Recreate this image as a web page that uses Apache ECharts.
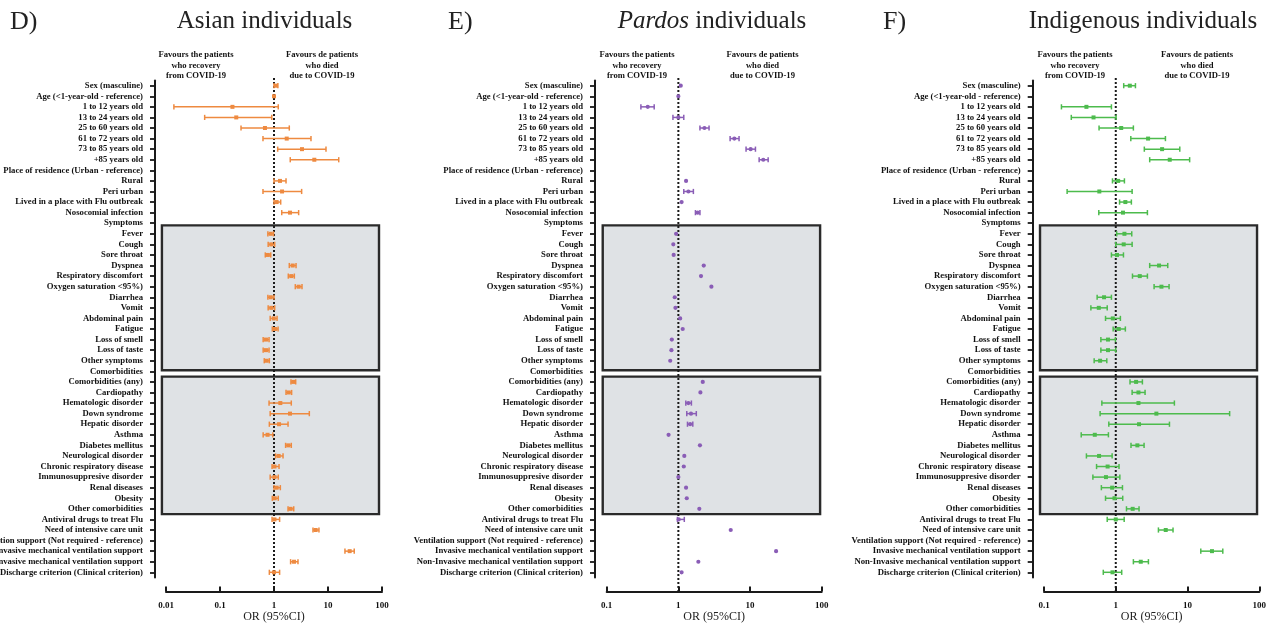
<!DOCTYPE html>
<html><head><meta charset="utf-8">
<script src="https://cdn.jsdelivr.net/npm/echarts@6/dist/echarts.min.js"></script>
<style>html,body{margin:0;padding:0;background:#fff}#c{width:1275px;height:625px}</style>
</head><body><div id="c"></div>
<script>
const FONT = "'Liberation Serif','Times New Roman',serif";

const rowLabels = [
 'Sex (masculine)','Age (<1-year-old - reference)','1 to 12 years old','13 to 24 years old','25 to 60 years old',
 '61 to 72 years old','73 to 85 years old','+85 years old','Place of residence (Urban - reference)','Rural',
 'Peri urban','Lived in a place with Flu outbreak','Nosocomial infection','Symptoms','Fever','Cough','Sore throat',
 'Dyspnea','Respiratory discomfort','Oxygen saturation <95%)','Diarrhea','Vomit','Abdominal pain','Fatigue',
 'Loss of smell','Loss of taste','Other symptoms','Comorbidities','Comorbidities (any)','Cardiopathy',
 'Hematologic disorder','Down syndrome','Hepatic disorder','Asthma','Diabetes mellitus','Neurological disorder',
 'Chronic respiratory disease','Immunosuppresive disorder','Renal diseases','Obesity','Other comorbidities',
 'Antiviral drugs to treat Flu','Need of intensive care unit','Ventilation support (Not required - reference)',
 'Invasive mechanical ventilation support','Non-Invasive mechanical ventilation support',
 'Discharge criterion (Clinical criterion)'
];

// Asian individuals: OR, lower 95%CI, upper 95%CI (null = no estimate)
const asianOR = [1.08,1.0,0.17,0.20,0.68,1.72,3.3,5.58,null,1.29,1.41,1.12,1.98,null,0.87,0.89,0.77,2.22,2.09,2.86,0.87,0.89,0.99,1.04,0.71,0.71,0.73,null,2.28,1.87,1.31,1.98,1.24,0.76,1.84,1.22,1.02,1.02,1.12,1.03,2.03,1.02,5.91,null,25.2,2.35,1.0];
const asianLo = [1.0,1.0,0.014,0.052,0.245,0.625,1.17,2.0,null,1.0,0.625,1.0,1.39,null,0.77,0.78,0.69,1.92,1.84,2.48,0.77,0.78,0.85,0.93,0.63,0.63,0.66,null,2.06,1.67,0.81,0.85,0.82,0.63,1.64,1.07,0.92,0.85,1.0,0.93,1.82,0.92,5.27,null,20.6,2.03,0.82];
const asianHi = [1.18,1.0,1.2,0.91,1.92,4.84,9.18,15.8,null,1.67,3.25,1.33,2.86,null,0.98,1.03,0.87,2.56,2.38,3.3,1.0,1.03,1.14,1.19,0.81,0.81,0.82,null,2.52,2.12,2.09,4.51,1.82,0.95,2.09,1.47,1.24,1.2,1.31,1.2,2.32,1.27,6.8,null,30.6,2.78,1.27];

// Pardos individuals
const pardosOR = [1.08,1.0,0.374,1.0,2.31,6.04,10.2,15.3,null,1.28,1.38,1.11,1.86,null,0.93,0.85,0.86,2.26,2.07,2.89,0.89,0.91,1.06,1.15,0.81,0.80,0.77,null,2.19,2.03,1.38,1.50,1.46,0.73,2.0,1.21,1.19,1.0,1.28,1.31,1.96,1.01,5.38,null,23.1,1.9,1.11];
const pardosLo = [1.08,1.0,0.30,0.84,2.0,5.27,8.8,13.4,null,1.28,1.19,1.11,1.73,null,0.93,0.85,0.86,2.26,2.07,2.89,0.89,0.91,1.03,1.15,0.81,0.80,0.77,null,2.19,1.97,1.27,1.31,1.34,0.73,2.0,1.21,1.19,0.98,1.28,1.31,1.96,0.97,5.38,null,23.1,1.9,1.11];
const pardosHi = [1.08,1.0,0.46,1.19,2.68,7.03,11.9,17.9,null,1.28,1.62,1.11,2.0,null,0.93,0.85,0.86,2.26,2.07,2.89,0.89,0.91,1.09,1.15,0.81,0.80,0.77,null,2.19,2.09,1.52,1.78,1.59,0.73,2.0,1.21,1.19,1.03,1.28,1.31,1.96,1.21,5.38,null,23.1,1.9,1.11];

// Indigenous individuals
const indigOR = [1.57,null,0.39,0.49,1.19,2.82,4.42,5.65,null,1.08,0.59,1.36,1.26,null,1.32,1.29,1.04,4.01,2.16,4.33,0.687,0.58,0.91,1.10,0.78,0.78,0.605,null,1.92,2.07,2.07,3.68,2.11,0.51,2.0,0.585,0.77,0.73,0.89,0.96,1.72,1.0,4.97,null,21.9,2.23,0.9];
const indigLo = [1.29,null,0.175,0.24,0.585,1.62,2.5,2.97,null,0.9,0.21,1.13,0.58,null,1.03,1.0,0.87,2.97,1.71,3.42,0.55,0.45,0.72,0.92,0.62,0.62,0.5,null,1.58,1.69,0.64,0.605,0.8,0.33,1.63,0.39,0.54,0.48,0.63,0.72,1.41,0.76,3.93,null,15.3,1.76,0.67];
const indigHi = [1.88,null,0.87,1.01,1.76,4.92,7.8,10.7,null,1.32,1.69,1.65,2.76,null,1.67,1.69,1.28,5.3,2.76,5.53,0.87,0.76,1.16,1.36,0.99,1.0,0.75,null,2.35,2.56,6.56,38.6,5.6,0.79,2.48,0.89,1.11,1.14,1.24,1.25,2.11,1.31,6.28,null,31.0,2.85,1.21];

const xLabelsD = ['0.01','0.1','1','10','100'];
const xLabelsEF = ['0.1','1','10','100'];
const headerLeft = 'Favours the patients\nwho recovery\nfrom COVID-19';
const headerRight = 'Favours de patients\nwho died\ndue to COVID-19';
const shadedRows = [[13.2, 26.9], [27.5, 40.5]]; // grey groups (Symptoms, Comorbidities), in row units

const panels = [
 {letter:'D)', title:'Asian individuals', est:asianOR, lo:asianLo, hi:asianHi, color:'#ee8a40', ticks:xLabelsD, xMin:0.01, xMax:100,
  left:166, width:216, yOff:11, letterX:10, titleX:264.5, hdrL:196, hdrR:322, boxX:[0.0084, 88], marker:'rect'},
 {letter:'E)', title:'{i|Pardos} individuals', est:pardosOR, lo:pardosLo, hi:pardosHi, color:'#8a5db6', ticks:xLabelsEF, xMin:0.1, xMax:100,
  left:606.7, width:215, yOff:11.7, letterX:448, titleX:712, hdrL:637, hdrR:762.5, boxX:[0.088, 95], marker:'circle'},
 {letter:'F)', title:'Indigenous individuals', est:indigOR, lo:indigLo, hi:indigHi, color:'#4dbb4d', ticks:xLabelsEF, xMin:0.1, xMax:100,
  left:1044, width:215.3, yOff:11.3, letterX:883, titleX:1143, hdrL:1075, hdrR:1197, boxX:[0.088, 93], marker:'rect'}
];

const grids = [], xAxes = [], yAxes = [], series = [], graphics = [];
const PLOT_TOP = 80.4, PLOT_H = 497.2;

function forestRender(color, marker) {
  return function (params, api) {
    const p = api.coord([api.value(0), api.value(1)]);
    const l = api.coord([api.value(2), api.value(1)]);
    const h = api.coord([api.value(3), api.value(1)]);
    const st = {stroke: color, lineWidth: 1.5};
    const ch = [];
    if (h[0] - l[0] > 2) {
      ch.push({type:'line', shape:{x1:l[0], y1:p[1], x2:h[0], y2:p[1]}, style:st});
      ch.push({type:'line', shape:{x1:l[0], y1:p[1]-2.6, x2:l[0], y2:p[1]+2.6}, style:st});
      ch.push({type:'line', shape:{x1:h[0], y1:p[1]-2.6, x2:h[0], y2:p[1]+2.6}, style:st});
    }
    if (marker === 'circle') ch.push({type:'circle', shape:{cx:p[0], cy:p[1], r:2.1}, style:{fill:color}});
    else ch.push({type:'rect', shape:{x:p[0]-2, y:p[1]-2, width:4, height:4}, style:{fill:color}});
    return {type:'group', children:ch};
  };
}

panels.forEach((P, i) => {
  const g0 = 2*i, g1 = 2*i+1, y0 = 3*i;
  grids.push({left:P.left, top:PLOT_TOP, width:P.width, height:PLOT_H, containLabel:false, outerBoundsMode:'none'});
  grids.push({left:P.left, top:77, width:P.width, height:515, containLabel:false, outerBoundsMode:'none'});
  const lmin = Math.round(Math.log10(P.xMin));
  xAxes.push({
    type:'log', logBase:10, gridIndex:g0, position:'bottom', min:P.xMin, max:P.xMax, offset:14,
    axisLine:{show:true, onZero:false, lineStyle:{color:'#1a1a1a', width:2}},
    axisTick:{show:true, inside:true, length:5, lineStyle:{color:'#1a1a1a', width:2}},
    minorTick:{show:false}, splitLine:{show:false},
    axisLabel:{margin:10, fontFamily:FONT, fontWeight:'bold', fontSize:9, color:'#111',
      formatter:(v) => P.ticks[Math.round(Math.log10(v)) - lmin]},
    name:'OR (95%CI)', nameLocation:'middle', nameGap:19, nameMoveOverlap:false,
    nameTextStyle:{fontFamily:FONT, fontSize:12, color:'#222'}
  });
  xAxes.push({type:'log', logBase:10, gridIndex:g1, min:P.xMin, max:P.xMax, show:false});
  yAxes.push({
    type:'category', gridIndex:g0, data:rowLabels, inverse:true, offset:P.yOff, position:'left',
    axisLine:{show:true, onZero:false, lineStyle:{color:'#1a1a1a', width:2}},
    axisTick:{show:true, alignWithLabel:true, interval:0, length:5, lineStyle:{color:'#1a1a1a', width:1.8}},
    axisLabel:{interval:0, margin:12, fontFamily:FONT, fontWeight:'bold', fontSize:8.7, color:'#111'},
    splitLine:{show:false}
  });
  yAxes.push({type:'value', gridIndex:g0, min:-0.5, max:rowLabels.length - 0.5, inverse:true, show:false});
  yAxes.push({type:'value', gridIndex:g1, min:0, max:1, show:false});

  series.push({
    type:'custom', xAxisIndex:g0, yAxisIndex:y0+1, z:1, silent:true,
    data: shadedRows.map(r => [P.boxX[0], r[0], P.boxX[1], r[1]]),
    encode:{x:[0,2], y:[1,3]},
    renderItem:(params, api) => {
      const a = api.coord([api.value(0), api.value(1)]);
      const b = api.coord([api.value(2), api.value(3)]);
      return {type:'rect', shape:{x:a[0], y:a[1], width:b[0]-a[0], height:b[1]-a[1]},
        style:{fill:'#dfe2e5', stroke:'#2a2a2a', lineWidth:2.4}};
    }
  });
  series.push({
    type:'line', xAxisIndex:g1, yAxisIndex:y0+2, z:3, silent:true, symbol:'none',
    data:[[1,0],[1,1]], lineStyle:{color:'#1a1a1a', width:2, type:[2,2]}
  });
  const fd = [];
  P.est.forEach((v, k) => { if (v != null) fd.push([v, k, P.lo[k], P.hi[k]]); });
  series.push({
    type:'custom', xAxisIndex:g0, yAxisIndex:y0, z:4, silent:true,
    data:fd, encode:{x:[0,2,3], y:1}, renderItem:forestRender(P.color, P.marker)
  });

  graphics.push({type:'text', x:P.letterX, y:22, style:{text:P.letter, fontFamily:FONT, fontSize:26, fill:'#222', align:'left', verticalAlign:'middle'}});
  graphics.push({type:'text', x:P.titleX, y:21, style:{text:P.title, fontFamily:FONT, fontSize:25, fill:'#222', align:'center', verticalAlign:'middle',
    rich:{i:{fontStyle:'italic', fontFamily:FONT, fontSize:25, fill:'#222'}}}});
  [[P.hdrL, headerLeft], [P.hdrR, headerRight]].forEach(([hx, t]) => {
    graphics.push({type:'text', x:hx, y:49.6, style:{text:t, fontFamily:FONT, fontWeight:'bold', fontSize:8.6, lineHeight:10.5, fill:'#111', align:'center', verticalAlign:'top'}});
  });
});

const chart = echarts.init(document.getElementById('c'), null, {renderer:'canvas'});
chart.setOption({
  animation:false, backgroundColor:'#fff',
  grid:grids, xAxis:xAxes, yAxis:yAxes, series:series, graphic:graphics
});
</script>
</body></html>
